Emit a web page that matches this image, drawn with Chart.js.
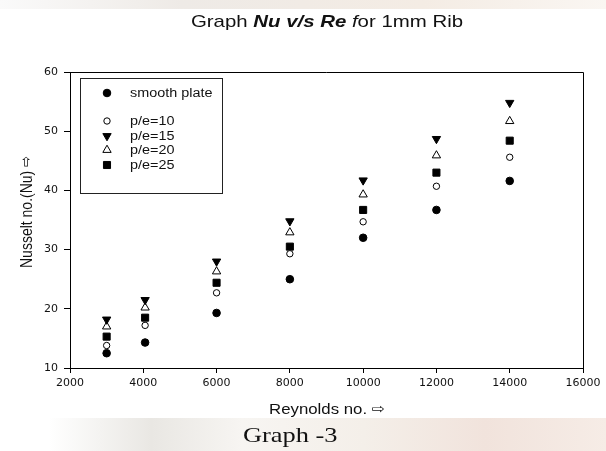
<!DOCTYPE html>
<html>
<head>
<meta charset="utf-8">
<script src="https://cdn.jsdelivr.net/npm/chart.js@4.4.0/dist/chart.umd.min.js"></script>
<style>
    html, body { margin: 0; padding: 0; background: #fff; }
    #wrap { position: relative; width: 606px; height: 451px; overflow: hidden; }
    #bgTop { position: absolute; left: 0; top: 0; width: 606px; height: 9px;
        background: linear-gradient(to right, #fafafa, #eeeae6 30%, #f4ece4 70%, #faf6f2); }
    #bgBottom { position: absolute; left: 0; top: 418px; width: 606px; height: 33px;
        background: linear-gradient(to right, #ffffff 0%, #ffffff 8%, #e9e7e3 25%, #f7f5f2 40%, #f4efe9 60%, #f1e3dc 80%, #f6ece6 100%); }
    canvas { position: absolute; left: 0; top: 0; }
</style>
</head>
<body>
<div id="wrap">
    <div id="bgTop"></div>
    <div id="bgBottom"></div>
    <canvas id="nuChart" width="606" height="451"></canvas>
</div>
<script>
// --- dados ---
const reynolds = [3000, 4050, 6000, 8000, 10000, 12000, 14000];
const smoothPlate = [12.5, 14.3, 19.3, 25.0, 32.0, 36.7, 41.6];
const pe10 = [13.8, 17.2, 22.7, 29.3, 34.7, 40.7, 45.6];
const pe15 = [18.2, 21.5, 28.0, 34.8, 41.7, 48.7, 54.8];
const pe20 = [17.0, 20.2, 26.3, 32.9, 39.3, 45.9, 51.7];
const pe25 = [15.3, 18.5, 24.4, 30.5, 36.7, 43.0, 48.4];
const seriesLabels = ['smooth plate', 'p/e=10', 'p/e=15', 'p/e=20', 'p/e=25'];
const xTicks = [2000, 4000, 6000, 8000, 10000, 12000, 14000, 16000];
const yTicks = [10, 20, 30, 40, 50, 60];

const toPoints = (ys) => ys.map((y, i) => ({ x: reynolds[i], y: y }));

// o texto da figura original está esticado na horizontal
const STRETCH = 1.2;
const SANS = '"Liberation Sans", Arial, sans-serif';

// estilos dos marcadores
const markers = [
    { pointStyle: 'circle', radius: 3.8, fill: '#000', rotation: 0 },
    { pointStyle: 'circle', radius: 3.2, fill: '#fff', rotation: 0 },
    { pointStyle: 'triangle', radius: 4.8, fill: '#000', rotation: 180 },
    { pointStyle: 'triangle', radius: 4.8, fill: '#fff', rotation: 0 },
    { pointStyle: 'rect', radius: 5, fill: '#000', rotation: 0 }
];
const allSeries = [smoothPlate, pe10, pe15, pe20, pe25];

const datasets = allSeries.map((ys, i) => ({
    label: seriesLabels[i],
    data: toPoints(ys),
    pointStyle: markers[i].pointStyle,
    pointRadius: markers[i].radius,
    pointHoverRadius: markers[i].radius,
    pointRotation: markers[i].rotation,
    backgroundColor: markers[i].fill,
    borderColor: '#000',
    borderWidth: 1,
    showLine: false
}));

// escreve texto esticado horizontalmente a partir de (x, y)
function stretchedText(ctx, text, x, y) {
    ctx.save();
    ctx.translate(x, y);
    ctx.scale(STRETCH, 1);
    ctx.fillText(text, 0, 0);
    ctx.restore();
    return ctx.measureText(text).width * STRETCH;
}

// --- plugin: título, moldura, legenda, rótulos dos eixos ---
const decorPlugin = {
    id: 'decor',
    afterDraw(chart) {
        const ctx = chart.ctx;
        const a = chart.chartArea;
        ctx.save();

        // moldura superior e direita
        ctx.strokeStyle = '#000';
        ctx.lineWidth = 1;
        ctx.beginPath();
        ctx.moveTo(a.left, a.top + 0.5);
        ctx.lineTo(a.right + 0.5, a.top + 0.5);
        ctx.lineTo(a.right + 0.5, a.bottom);
        ctx.stroke();

        // título com estilos misturados
        const parts = [
            { t: 'Graph ', f: '17px ' + SANS },
            { t: 'Nu v/s Re', f: 'italic bold 17px ' + SANS },
            { t: ' f', f: 'italic 17px ' + SANS },
            { t: 'or 1mm Rib', f: '17px ' + SANS }
        ];
        let total = 0;
        parts.forEach(p => { ctx.font = p.f; total += ctx.measureText(p.t).width * STRETCH; });
        let x = 327 - total / 2;
        ctx.fillStyle = '#111';
        ctx.textBaseline = 'alphabetic';
        ctx.textAlign = 'left';
        parts.forEach(p => { ctx.font = p.f; x += stretchedText(ctx, p.t, x, 27); });

        // legenda
        ctx.strokeStyle = '#222';
        ctx.strokeRect(80.5, 78.5, 142, 115);
        const rowsY = [93, 121, 136, 150, 165];
        ctx.textBaseline = 'middle';
        chart.data.datasets.forEach((ds, i) => {
            ctx.fillStyle = ds.backgroundColor;
            ctx.strokeStyle = '#000';
            ctx.lineWidth = 1;
            Chart.helpers.drawPoint(ctx, {
                pointStyle: ds.pointStyle,
                radius: ds.pointRadius,
                rotation: ds.pointRotation,
                borderWidth: 1
            }, 107, rowsY[i]);
            ctx.fillStyle = '#111';
            ctx.font = '12px ' + SANS;
            stretchedText(ctx, ds.label, 130, rowsY[i] + 1);
        });

        // título do eixo x
        ctx.font = '14px ' + SANS;
        ctx.fillStyle = '#111';
        const rw = stretchedText(ctx, 'Reynolds no. ', 269, 410);
        ctx.font = '13px "DejaVu Sans"';
        stretchedText(ctx, '\u21E8', 269 + rw, 410);

        // título do eixo y (girado; o esticamento vira espessura)
        ctx.save();
        ctx.translate(27, 212);
        ctx.rotate(-Math.PI / 2);
        ctx.scale(1, STRETCH);
        ctx.font = '14px ' + SANS;
        const yLabel = 'Nusselt no.(Nu) ';
        const w1 = ctx.measureText(yLabel).width;
        ctx.font = '13px "DejaVu Sans"';
        const w2 = ctx.measureText('\u21E8').width;
        ctx.font = '14px ' + SANS;
        ctx.fillText(yLabel, -(w1 + w2) / 2, 0);
        ctx.font = '13px "DejaVu Sans"';
        ctx.fillText('\u21E8', -(w1 + w2) / 2 + w1, 0);
        ctx.restore();

        // legenda da figura
        ctx.font = '22px "Liberation Serif", "Times New Roman", serif';
        ctx.fillStyle = '#111';
        ctx.textAlign = 'left';
        ctx.textBaseline = 'alphabetic';
        stretchedText(ctx, 'Graph -3', 243, 442);

        ctx.restore();
    }
};

const canvas = document.getElementById('nuChart');
new Chart(canvas, {
    type: 'scatter',
    data: { datasets: datasets },
    options: {
        responsive: false,
        animation: false,
        layout: { padding: { left: 0, top: 72, right: 23, bottom: 0 } },
        scales: {
            x: {
                type: 'linear',
                min: 2000,
                max: 16000,
                afterBuildTicks: (scale) => { scale.ticks = xTicks.map(v => ({ value: v })); },
                afterFit: (scale) => { scale.height = 83; },
                grid: { drawOnChartArea: false, tickLength: 5, color: '#000' },
                border: { color: '#000', width: 1 },
                ticks: {
                    color: '#111',
                    padding: 4,
                    maxRotation: 0,
                    font: { family: '"DejaVu Sans"', size: 11 },
                    callback: (v) => String(v)
                }
            },
            y: {
                type: 'linear',
                min: 10,
                max: 60,
                afterBuildTicks: (scale) => { scale.ticks = yTicks.map(v => ({ value: v })); },
                afterFit: (scale) => { scale.width = 70; },
                grid: { drawOnChartArea: false, tickLength: 6, color: '#000' },
                border: { color: '#000', width: 1 },
                ticks: {
                    color: '#111',
                    padding: 6,
                    font: { family: '"DejaVu Sans"', size: 11 }
                }
            }
        },
        plugins: {
            legend: { display: false },
            title: { display: false },
            tooltip: { enabled: false }
        }
    },
    plugins: [decorPlugin]
});
</script>
</body>
</html>
